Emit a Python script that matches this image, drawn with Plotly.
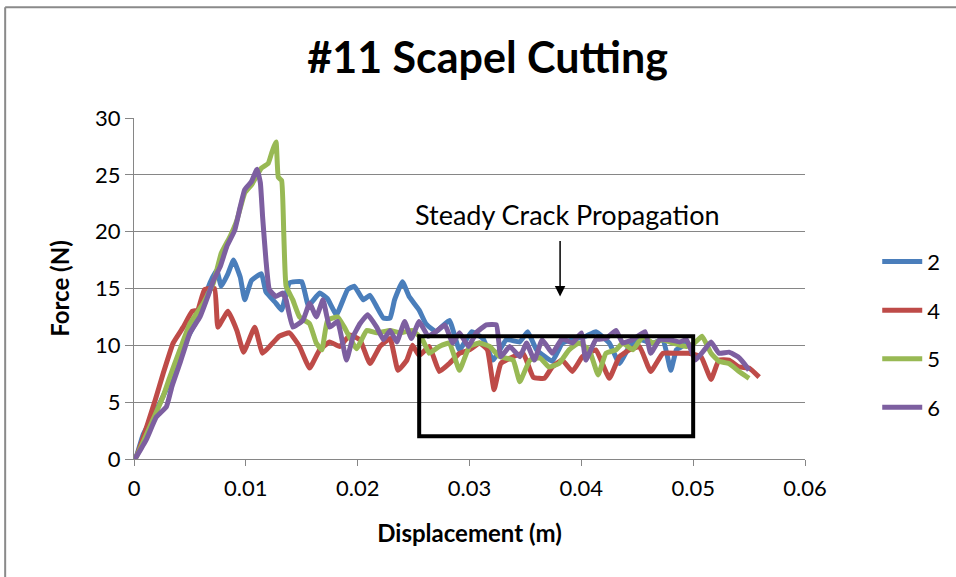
import plotly.graph_objects as go

# ---------------- data ----------------
x2 = [0, 0.0002, 0.0008, 0.0023, 0.0035, 0.0044, 0.0056, 0.0068, 0.0074, 0.0078, 0.0084, 0.0089,
      0.0095, 0.0099, 0.0105, 0.0114, 0.0118, 0.0127, 0.0132, 0.0139, 0.0150, 0.0156, 0.0166,
      0.0173, 0.0181, 0.0191, 0.0197, 0.0205, 0.0211, 0.0217, 0.0223, 0.0229, 0.0233, 0.0240,
      0.0246, 0.0255, 0.0261, 0.0270, 0.0282, 0.0291, 0.0302, 0.0312, 0.0321, 0.0333, 0.0345,
      0.0352, 0.0360, 0.0374, 0.0383, 0.0392, 0.0404, 0.0413, 0.0425, 0.0434, 0.0443, 0.0452,
      0.0464, 0.0473, 0.0480, 0.0485, 0.0490, 0.0495]
y2 = [0, 0.2, 2.1, 4.9, 7.5, 9.9, 12.2, 15.5, 16.6, 15.2, 16.3, 17.5,
      16.0, 14.0, 15.7, 16.3, 14.7, 13.7, 13.1, 15.5, 15.6, 13.5, 14.6,
      14.1, 12.7, 14.9, 15.2, 14.0, 14.4, 13.4, 12.4, 12.4, 14.0, 15.6,
      14.3, 13.1, 11.9, 11.2, 12.2, 9.6, 11.2, 10.6, 8.7, 10.5, 10.3,
      11.2, 9.6, 8.6, 10.2, 10.5, 10.8, 11.2, 10.2, 8.4, 9.9, 10.5,
      10.2, 10.5, 7.8, 9.6, 9.9, 10.2]

x4 = [0, 0.0002, 0.0019, 0.0026, 0.0035, 0.0044, 0.0052, 0.0057, 0.0063, 0.0072, 0.0075, 0.0084,
      0.0092, 0.0098, 0.0108, 0.0115, 0.0124, 0.0130, 0.0139, 0.0148, 0.0157, 0.0166, 0.0175,
      0.0184, 0.0193, 0.0202, 0.0211, 0.0220, 0.0229, 0.0236, 0.0244, 0.0249, 0.0255, 0.0264,
      0.0273, 0.0282, 0.0291, 0.0300, 0.0309, 0.0316, 0.0322, 0.0328, 0.0339, 0.0348, 0.0357,
      0.0367, 0.0374, 0.0383, 0.0392, 0.0401, 0.0413, 0.0425, 0.0434, 0.0443, 0.0452, 0.0462,
      0.0473, 0.0485, 0.0496, 0.0507, 0.0516, 0.0523, 0.0532, 0.0541, 0.0550, 0.0559]
y4 = [0, 0.2, 5.2, 7.5, 10.2, 11.6, 13.0, 13.1, 14.9, 15.0, 11.6, 13.0,
      11.3, 9.4, 11.6, 9.3, 10.2, 10.8, 11.1, 9.9, 8.0, 9.6, 10.3,
      9.9, 10.9, 10.5, 8.4, 9.9, 10.6, 7.8, 8.7, 10.0, 9.1, 9.9,
      7.7, 8.4, 9.3, 9.6, 10.2, 9.6, 6.1, 8.4, 9.0, 9.3, 7.2,
      7.1, 8.1, 8.7, 7.7, 9.0, 9.6, 7.1, 9.0, 9.6, 9.9, 7.7,
      9.3, 9.3, 9.3, 9.0, 7.0, 8.7, 8.7, 8.1, 8.0, 7.2]

x5 = [0, 0.0002, 0.0014, 0.0026, 0.0032, 0.0041, 0.0050, 0.0062, 0.0071, 0.0078, 0.0086, 0.0092,
      0.0099, 0.0105, 0.0114, 0.0120, 0.0123, 0.0127, 0.0129, 0.0132, 0.0134, 0.0136, 0.0142,
      0.0148, 0.0157, 0.0163, 0.0168, 0.0173, 0.0182, 0.0188, 0.0199, 0.0208, 0.0217, 0.0229,
      0.0238, 0.0249, 0.0258, 0.0264, 0.0273, 0.0282, 0.0291, 0.0300, 0.0309, 0.0318, 0.0327,
      0.0339, 0.0345, 0.0354, 0.0363, 0.0371, 0.0380, 0.0389, 0.0398, 0.0407, 0.0415, 0.0422,
      0.0431, 0.0437, 0.0446, 0.0455, 0.0464, 0.0473, 0.0482, 0.0494, 0.0501, 0.0508, 0.0516,
      0.0523, 0.0532, 0.0541, 0.0550]
y5 = [0, 0.2, 2.8, 5.5, 7.2, 9.6, 11.9, 13.7, 15.5, 18.1, 19.6, 21.0,
      23.4, 24.1, 25.6, 26.0, 26.9, 27.9, 24.8, 24.5, 19.6, 15.2, 14.0,
      12.5, 11.9, 10.2, 9.6, 12.2, 12.5, 11.6, 9.7, 11.3, 11.1, 11.3,
      11.1, 11.3, 10.5, 9.3, 9.9, 10.2, 7.8, 9.9, 10.2, 9.9, 9.0,
      8.7, 6.8, 8.7, 8.9, 8.1, 8.4, 9.6, 10.2, 9.6, 7.4, 9.3,
      9.6, 10.2, 9.6, 10.8, 10.2, 10.5, 10.2, 9.9, 10.2, 10.8, 9.3,
      8.6, 8.4, 7.7, 7.1]

x6 = [0, 0.0002, 0.0011, 0.0020, 0.0029, 0.0034, 0.0041, 0.0050, 0.0059, 0.0066, 0.0071, 0.0077,
      0.0083, 0.0090, 0.0095, 0.0099, 0.0105, 0.0110, 0.0113, 0.0115, 0.0118, 0.0121, 0.0127,
      0.0133, 0.0136, 0.0142, 0.0151, 0.0157, 0.0163, 0.0169, 0.0175, 0.0182, 0.0190, 0.0196,
      0.0202, 0.0209, 0.0217, 0.0223, 0.0229, 0.0235, 0.0242, 0.0248, 0.0255, 0.0263, 0.0270,
      0.0278, 0.0285, 0.0291, 0.0299, 0.0306, 0.0315, 0.0324, 0.0328, 0.0336, 0.0345, 0.0351,
      0.0358, 0.0365, 0.0374, 0.0383, 0.0392, 0.0400, 0.0404, 0.0413, 0.0422, 0.0431, 0.0437,
      0.0446, 0.0457, 0.0462, 0.0470, 0.0479, 0.0488, 0.0494, 0.0502, 0.0510, 0.0516, 0.0523,
      0.0532, 0.0540, 0.0548, 0.0550]
y6 = [0, 0.2, 1.7, 3.7, 4.6, 6.4, 8.4, 11.1, 12.5, 14.3, 15.7, 16.9,
      18.7, 20.1, 22.2, 23.7, 24.4, 25.5, 24.3, 21.3, 17.5, 14.9, 14.3,
      14.6, 14.0, 11.6, 12.2, 13.7, 12.5, 14.0, 11.6, 12.1, 8.7, 10.8,
      11.9, 12.7, 11.6, 10.5, 11.3, 10.3, 12.1, 10.6, 12.1, 10.8, 11.2,
      11.8, 10.2, 11.1, 9.9, 11.1, 11.8, 11.8, 9.0, 9.9, 9.0, 10.2,
      8.7, 10.5, 9.3, 10.6, 10.2, 11.1, 8.7, 10.5, 10.6, 11.3, 10.2,
      10.5, 11.2, 9.3, 10.5, 10.5, 10.3, 10.5, 8.7, 9.6, 10.3, 9.3,
      9.4, 9.0, 8.1, 7.8]

series_names = ["2", "4", "5", "6"]
series_colors = ["#4A7EBB", "#BE4B48", "#98B954", "#7D5FA0"]

x_ticks = [0, 0.01, 0.02, 0.03, 0.04, 0.05, 0.06]
x_tick_labels = ["0", "0.01", "0.02", "0.03", "0.04", "0.05", "0.06"]
y_ticks = [0, 5, 10, 15, 20, 25, 30]

title_text = "#11 Scapel Cutting"
x_title = "Displacement (m)"
y_title = "Force (N)"
note_text = "Steady Crack Propagation"
box_x = [0.0255, 0.0500]
box_y = [2.0, 10.8]
arrow_x = 0.0381
arrow_y = [19.3, 14.3]

# ---------------- figure ----------------
FONT = "Lato, 'Open Sans', sans-serif"
GRID = "#868686"

fig = go.Figure()
for i, (xs, ys) in enumerate([(x2, y2), (x4, y4), (x5, y5), (x6, y6)]):
    fig.add_trace(go.Scatter(
        x=xs, y=ys, mode="lines", name=series_names[i],
        legendgroup=series_names[i],
        line=dict(color=series_colors[i], width=5, shape="spline", smoothing=0.35),
    ))

fig.update_layout(
    width=956, height=577,
    margin=dict(l=134, r=150, t=118, b=118),
    paper_bgcolor="white", plot_bgcolor="white",
    font=dict(family=FONT, color="black", size=22),
    title=dict(text="<b>" + title_text + "</b>", x=0.527, xref="paper",
               y=1 - 58 / 577, yanchor="middle", xanchor="center",
               font=dict(size=43, family=FONT, color="black")),
    showlegend=True,
    legend=dict(x=1.106, y=0.64, xanchor="left", yanchor="top",
                font=dict(size=22, family=FONT), tracegroupgap=17,
                itemwidth=40, bgcolor="rgba(0,0,0,0)"),
    xaxis=dict(range=[0, 0.06], tickvals=x_ticks, ticktext=x_tick_labels,
               showgrid=False, zeroline=False, showline=True, linecolor=GRID,
               linewidth=1, ticks="outside", ticklen=6, tickcolor=GRID,
               ticklabelstandoff=4,
               tickfont=dict(size=22), title=dict(text="<b>" + x_title + "</b>",
               font=dict(size=24), standoff=24)),
    yaxis=dict(range=[0, 30], tickvals=y_ticks, showgrid=True, gridcolor=GRID,
               gridwidth=1, zeroline=False, showline=True, linecolor=GRID,
               linewidth=1, ticks="outside", ticklen=8, tickcolor=GRID,
               tickfont=dict(size=22), title=dict(text="<b>" + y_title + "</b>",
               font=dict(size=24), standoff=18)),
)

# rectangle marking the steady region
fig.add_shape(type="rect", xref="x", yref="y", x0=box_x[0], x1=box_x[1],
              y0=box_y[0], y1=box_y[1], line=dict(color="black", width=4),
              fillcolor="rgba(0,0,0,0)", layer="above")

# annotation text and arrow
fig.add_annotation(x=0.03875, y=21.5, xref="x", yref="y", text=note_text,
                   showarrow=False, font=dict(size=27, family=FONT, color="black"),
                   xanchor="center", yanchor="middle")
fig.add_annotation(x=arrow_x, y=arrow_y[1], ax=arrow_x, ay=arrow_y[0],
                   xref="x", yref="y", axref="x", ayref="y", text="",
                   showarrow=True, arrowhead=2, arrowsize=1.4, arrowwidth=1.5,
                   arrowcolor="black")

# outer frame lines (top and left visible in the reference)
fig.add_shape(type="line", xref="paper", yref="paper", x0=-0.192, x1=1.25,
              y0=1.325, y1=1.325, line=dict(color="#8A8A8A", width=2))
fig.add_shape(type="line", xref="paper", yref="paper", x0=-0.192, x1=-0.192,
              y0=1.325, y1=-0.4, line=dict(color="#8A8A8A", width=2))

fig.write_html("out.html", config={"displayModeBar": False},
               post_script="document.body.style.margin='0';document.body.style.overflow='hidden';")
